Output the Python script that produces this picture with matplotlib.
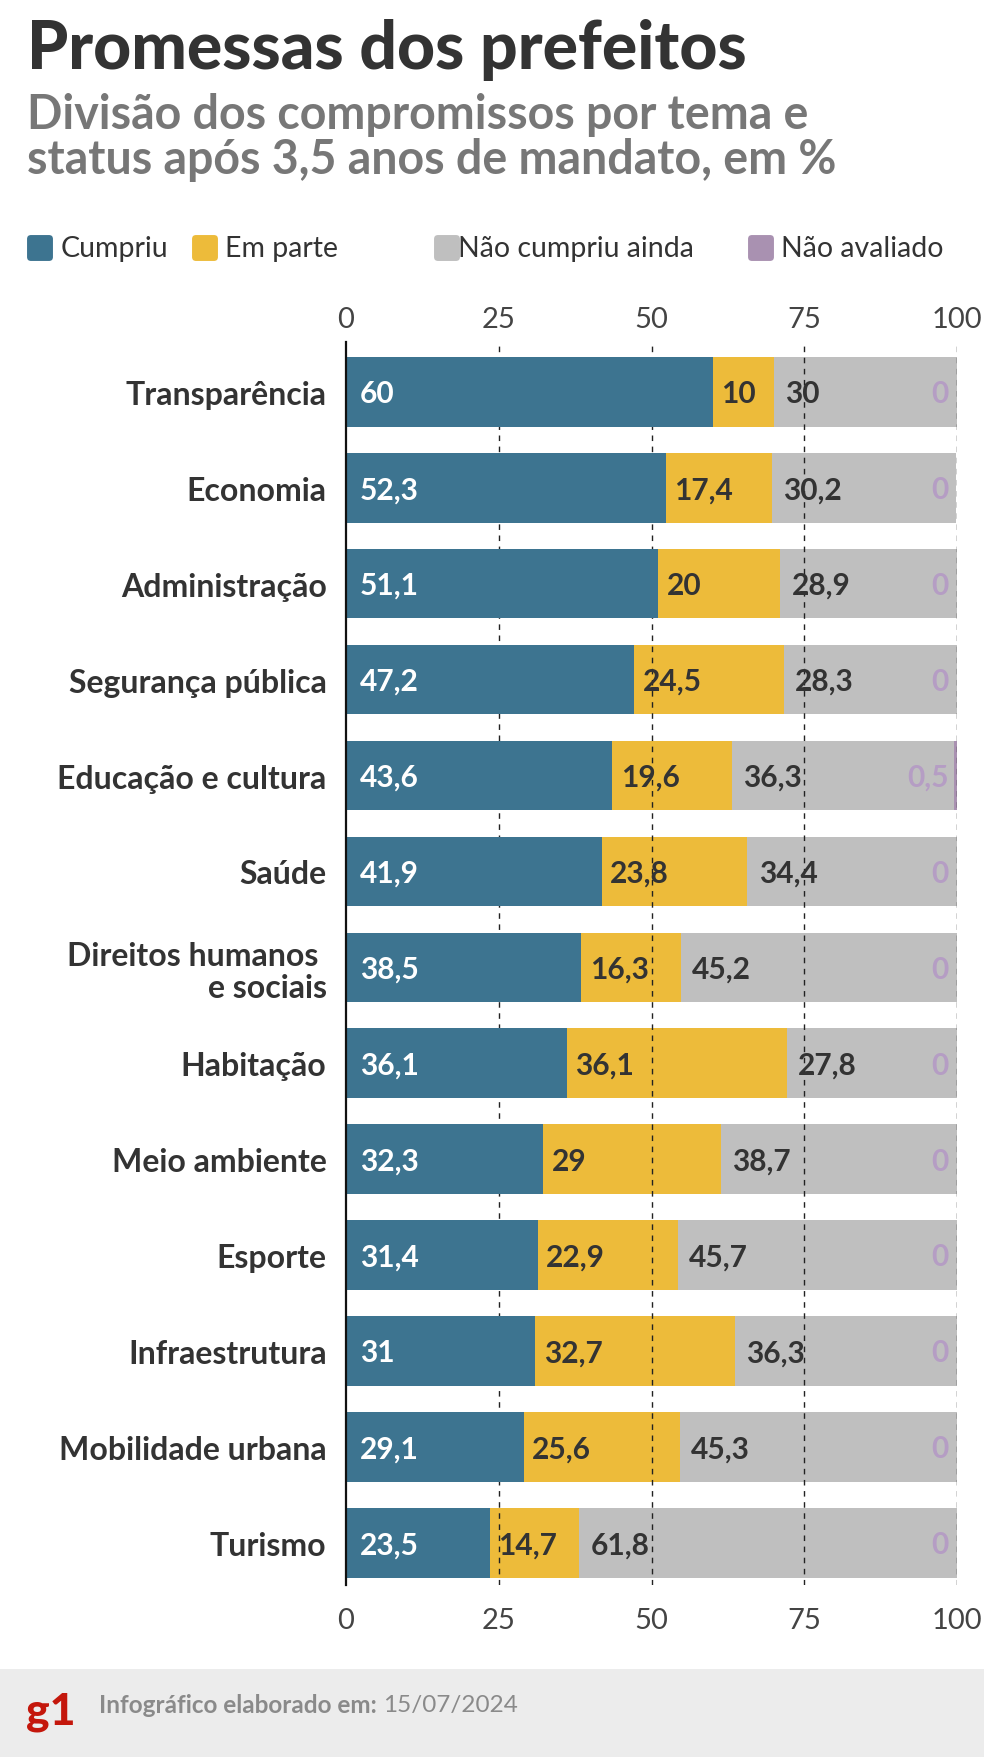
import matplotlib
matplotlib.use("Agg")
import matplotlib.pyplot as plt
from matplotlib.patches import FancyBboxPatch, Rectangle

plt.rcParams['font.family'] = ['Lato', 'DejaVu Sans']

categories = ["Transparência", "Economia", "Administração", "Segurança pública",
              "Educação e cultura", "Saúde", "Direitos humanos \ne sociais", "Habitação",
              "Meio ambiente", "Esporte", "Infraestrutura", "Mobilidade urbana", "Turismo"]
cumpriu = [60, 52.3, 51.1, 47.2, 43.6, 41.9, 38.5, 36.1, 32.3, 31.4, 31, 29.1, 23.5]
em_parte = [10, 17.4, 20, 24.5, 19.6, 23.8, 16.3, 36.1, 29, 22.9, 32.7, 25.6, 14.7]
nao_cumpriu = [30, 30.2, 28.9, 28.3, 36.3, 34.4, 45.2, 27.8, 38.7, 45.7, 36.3, 45.3, 61.8]
nao_avaliado = [0, 0, 0, 0, 0.5, 0, 0, 0, 0, 0, 0, 0, 0]
series_names = ["Cumpriu", "Em parte", "Não cumpriu ainda", "Não avaliado"]
ticks = [0, 25, 50, 75, 100]

C_BLUE = "#3d7490"
C_YELLOW = "#edbb3a"
C_GRAY = "#bfbfbf"
C_PURPLE = "#a991b1"
C_PURPLE_TXT = "#b59dc4"
C_DARK = "#333333"

W, H = 984, 1758
fig = plt.figure(figsize=(W / 100, H / 100), dpi=100)

def fx(x):
    return x / W

def fy(y):
    return 1 - y / H

def fmt(v):
    if float(v).is_integer():
        return f"{int(v)}"
    return f"{v}".replace(".", ",")

# Title and subtitle
fig.text(fx(27), fy(50), "Promessas dos prefeitos", fontsize=47.5, fontweight='black',
         color=C_DARK, ha='left', va='center')
fig.text(fx(27), fy(115), "Divisão dos compromissos por tema e", fontsize=33.5, fontweight='bold',
         color="#777777", ha='left', va='center')
fig.text(fx(27), fy(160), "status após 3,5 anos de mandato, em %", fontsize=33.5, fontweight='bold',
         color="#777777", ha='left', va='center')

# Legend
leg_colors = [C_BLUE, C_YELLOW, C_GRAY, C_PURPLE]
leg_sq_x = [28, 193, 435, 749]
leg_txt_x = [61, 225, 458, 781]
leg_y = 249
for name, col, sx, tx in zip(series_names, leg_colors, leg_sq_x, leg_txt_x):
    sq = FancyBboxPatch((fx(sx + 2), fy(leg_y + 10)), fx(20), 20 / H,
                        boxstyle="round,pad=0.003,rounding_size=0.004",
                        transform=fig.transFigure, facecolor=col, edgecolor='none',
                        mutation_aspect=W / H)
    fig.patches.append(sq)
    fig.text(fx(tx), fy(leg_y), name, fontsize=20.5, color=C_DARK, ha='left', va='center')

# Axes area
ax_left, ax_right = 346, 957
ax_top, ax_bot = 343, 1586
ax = fig.add_axes([fx(ax_left), fy(ax_bot), fx(ax_right - ax_left), (ax_bot - ax_top) / H])

n = len(categories)
ypos = list(range(n))
bh = 0.725
ax.barh(ypos, cumpriu, height=bh, color=C_BLUE, zorder=4)
left2 = cumpriu
ax.barh(ypos, em_parte, left=left2, height=bh, color=C_YELLOW, zorder=2)
left3 = [a + b for a, b in zip(cumpriu, em_parte)]
ax.barh(ypos, nao_cumpriu, left=left3, height=bh, color=C_GRAY, zorder=2)
left4 = [a + b for a, b in zip(left3, nao_cumpriu)]
ax.barh(ypos, nao_avaliado, left=left4, height=bh, color=C_PURPLE, zorder=2)

ax.set_xlim(0, 100)
ax.set_ylim(n - 1 + 0.44, -0.52)

for t in ticks[1:]:
    ax.axvline(t, color="#222222", lw=1.0, ls=(0, (4, 4)), zorder=3)

for s in ['top', 'right', 'bottom']:
    ax.spines[s].set_visible(False)
ax.spines['left'].set_color('#111111')
ax.spines['left'].set_linewidth(1.6)
ax.spines['left'].set_zorder(5)

ax.set_xticks(ticks)
ax.set_xticklabels([str(t) for t in ticks])
ax.tick_params(axis='x', which='both', length=0, labelsize=21, labelcolor="#444444",
               top=False, bottom=False, labeltop=False, labelbottom=True, pad=16)

secx = ax.secondary_xaxis('top')
secx.set_xticks(ticks)
secx.set_xticklabels([str(t) for t in ticks])
secx.tick_params(axis='x', length=0, labelsize=21, labelcolor="#444444", pad=7)
secx.spines['top'].set_visible(False)

ax.set_yticks(ypos)
ax.set_yticklabels(categories, fontsize=23, fontweight='bold', color=C_DARK,
                   ha='right', linespacing=1.15)
ax.tick_params(axis='y', length=0, pad=14)

# Value labels
for i in range(n):
    ax.annotate(fmt(cumpriu[i]), (0, i), xytext=(10, -1), textcoords='offset points',
                ha='left', va='center', fontsize=21.5, fontweight='bold', color='white', zorder=6)
    ax.annotate(fmt(em_parte[i]), (left2[i], i), xytext=(6, -1), textcoords='offset points',
                ha='left', va='center', fontsize=21.5, fontweight='bold', color=C_DARK, zorder=6)
    ax.annotate(fmt(nao_cumpriu[i]), (left3[i], i), xytext=(8, -1), textcoords='offset points',
                ha='left', va='center', fontsize=21.5, fontweight='bold', color=C_DARK, zorder=6)
    ax.annotate(fmt(nao_avaliado[i]), (100, i), xytext=(-6, -1), textcoords='offset points',
                ha='right', va='center', fontsize=21.5, fontweight='bold', color=C_PURPLE_TXT, zorder=6)

# Footer
fig.patches.append(Rectangle((0, 0), 1, fy(1670), transform=fig.transFigure,
                             facecolor="#ececec", edgecolor='none', zorder=0))
fig.text(fx(26), fy(1712), "g1", fontsize=32, fontweight='black', color="#c4170c",
         ha='left', va='center')
t1 = fig.text(fx(99), fy(1706), "Infográfico elaborado em: ", fontsize=17.5, fontweight='bold',
              color="#8a8a8a", ha='left', va='center')
fig.canvas.draw()
bb = t1.get_window_extent()
fig.text(bb.x1 / W, fy(1706), "15/07/2024", fontsize=17.5, color="#8a8a8a",
         ha='left', va='center')

fig.savefig("out.png", dpi=100, facecolor='white')
